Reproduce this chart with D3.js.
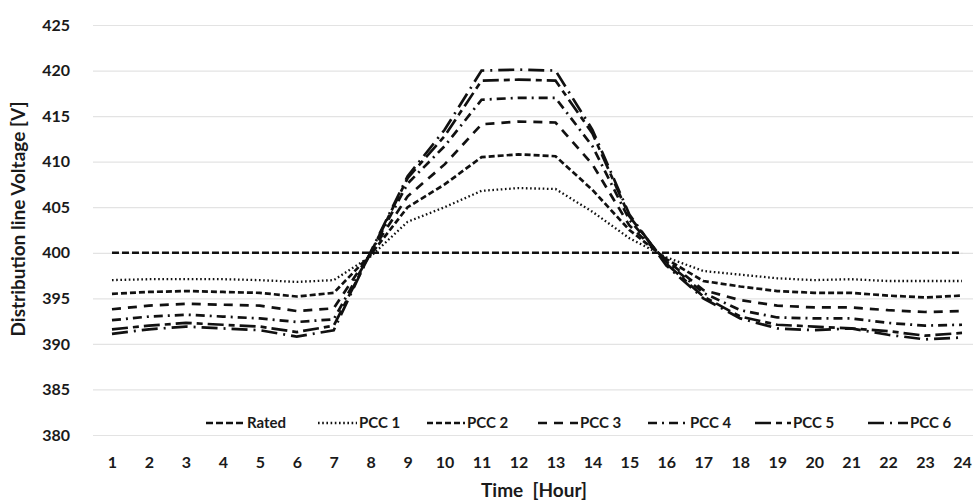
<!DOCTYPE html>
<html><head><meta charset="utf-8">
<script src="https://cdn.jsdelivr.net/npm/d3@7"></script>
<style>
html,body{margin:0;padding:0;background:#fff;}
svg{display:block;}
text{font-family:Lato,"Open Sans",sans-serif;font-weight:bold;fill:#1a1a1a;}
</style></head>
<body>
<svg id="chart" width="973" height="500"></svg>
<script>
const hours = [1,2,3,4,5,6,7,8,9,10,11,12,13,14,15,16,17,18,19,20,21,22,23,24];
const yTicks = [380,385,390,395,400,405,410,415,420,425];
const seriesNames = ["Rated","PCC 1","PCC 2","PCC 3","PCC 4","PCC 5","PCC 6"];
const rated = [400,400,400,400,400,400,400,400,400,400,400,400,400,400,400,400,400,400,400,400,400,400,400,400];
const pcc1 = [397.0,397.1,397.1,397.1,397.0,396.8,397.0,399.6,403.4,405.0,406.8,407.1,407.0,404.5,401.6,399.5,398.0,397.6,397.2,397.0,397.1,396.9,396.9,396.9];
const pcc2 = [395.5,395.7,395.8,395.7,395.6,395.2,395.6,399.8,405.0,407.5,410.5,410.8,410.6,406.9,402.5,399.3,396.9,396.3,395.8,395.6,395.6,395.3,395.1,395.3];
const pcc3 = [393.8,394.2,394.4,394.3,394.2,393.6,393.9,400.0,406.2,409.7,414.1,414.4,414.3,409.7,403.0,399.2,395.9,394.8,394.2,394.0,394.0,393.7,393.5,393.6];
const pcc4 = [392.6,393.0,393.2,393.0,392.8,392.4,392.7,400.0,407.6,411.7,416.8,417.0,417.0,411.7,403.6,399.0,395.6,393.7,392.9,392.8,392.8,392.3,392.0,392.1];
const pcc5 = [391.6,392.0,392.3,392.1,391.9,391.3,392.0,400.0,408.2,412.8,418.9,419.0,418.9,413.1,404.0,398.8,395.2,393.0,392.1,391.9,391.7,391.4,390.9,391.2];
const pcc6 = [391.1,391.6,391.9,391.7,391.5,390.8,391.5,400.1,408.4,413.5,420.0,420.1,420.0,413.5,404.2,398.6,395.0,392.8,391.7,391.5,391.7,391.0,390.5,390.7];

const allSeries = [rated,pcc1,pcc2,pcc3,pcc4,pcc5,pcc6];
const dashes = ["7,3","1.6,2.6","6,3","9,7","9,5,2,5","16,5,6,5","16,6,2,6"];
const widths = [2.5,2.3,2.7,2.7,2.7,2.7,2.7];

const svg = d3.select("#chart");
const x = d3.scalePoint().domain(hours).range([93.5,980.5]).padding(0.5);
const y = d3.scaleLinear().domain([380,425]).range([435,25]);

// gridlines + y labels
const yAxis = d3.axisLeft(y).tickValues(yTicks).tickSize(-880).tickPadding(23).tickFormat(d3.format("d"));
const gy = svg.append("g").attr("transform","translate(93,0)").call(yAxis);
gy.select(".domain").remove();
gy.selectAll(".tick line").attr("stroke","#e3e3e3").attr("stroke-width",1.2);
gy.selectAll(".tick text").style("font-size","16px").attr("fill","#1a1a1a").style("font-family","Lato,sans-serif").style("font-weight","bold");

// x axis labels
const xAxis = d3.axisBottom(x).tickSize(0).tickPadding(0);
const gx = svg.append("g").attr("transform","translate(0,457)").call(xAxis);
gx.select(".domain").remove();
gx.selectAll(".tick text").style("font-size","16px").attr("fill","#1a1a1a").style("font-family","Lato,sans-serif").style("font-weight","bold");

// lines
const line = d3.line().x((d,i)=>x(hours[i])).y(d=>y(d));
svg.append("g").selectAll("path").data(allSeries).join("path")
  .attr("d",line)
  .attr("fill","none")
  .attr("stroke","#111")
  .attr("stroke-width",(d,i)=>widths[i])
  .attr("stroke-dasharray",(d,i)=>dashes[i]);

// legend
const legendSample = [206,318,427,538,648,755,868];
const legendText = [247,359,467,580,690,793,910];
const legY = 423;
const lg = svg.append("g");
seriesNames.forEach((name,i)=>{
  lg.append("line").attr("x1",legendSample[i]).attr("x2",legendText[i]-2)
    .attr("y1",legY).attr("y2",legY)
    .attr("stroke","#111").attr("stroke-width",widths[i]).attr("stroke-dasharray",dashes[i]);
  lg.append("text").attr("x",legendText[i]).attr("y",legY+5).style("font-size","15px").text(name);
});

// axis titles
svg.append("text").attr("transform","translate(25,219) rotate(-90)").attr("text-anchor","middle")
  .style("font-size","19px").text("Distribution line Voltage [V]");
svg.append("text").attr("x",534).attr("y",497).attr("text-anchor","middle")
  .style("font-size","19px").attr("xml:space","preserve").style("white-space","pre").text("Time  [Hour]");
</script>
</body></html>
